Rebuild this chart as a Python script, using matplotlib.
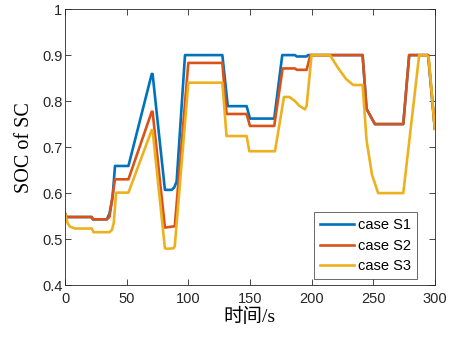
import matplotlib
matplotlib.use("Agg")
import matplotlib.pyplot as plt

t1 = [0, 1, 21.6, 22.5, 33.8, 36, 38.5, 40.5, 51.4, 70.3, 71, 81, 86.5, 88.5, 90.5, 97.3, 127.6, 130, 132, 147.3, 150,
      169.7, 176.2, 186.5, 188, 196, 197, 241.4, 244.6, 251.4, 274.4, 279.2, 294.6, 300]
s1 = [0.555, 0.548, 0.548, 0.543, 0.543, 0.555, 0.59, 0.659, 0.659, 0.859, 0.859, 0.607, 0.607, 0.612, 0.625, 0.9, 0.9, 0.84, 0.789, 0.789, 0.762,
      0.762, 0.9, 0.9, 0.897, 0.897, 0.9, 0.9, 0.783, 0.75, 0.75, 0.9, 0.9, 0.74]

t2 = [0, 1, 21.6, 22.5, 33.8, 36, 40.5, 51.4, 70.3, 71, 81, 89, 100, 127.6, 131, 147.3, 150,
      169.7, 176.5, 186.5, 188, 196, 199, 241.4, 244.6, 251.4, 274.4, 279.2, 294.6, 300]
s2 = [0.555, 0.548, 0.548, 0.543, 0.543, 0.548, 0.63, 0.63, 0.777, 0.777, 0.525, 0.528, 0.883, 0.883, 0.772, 0.772, 0.746,
      0.746, 0.871, 0.871, 0.868, 0.868, 0.9, 0.9, 0.783, 0.75, 0.75, 0.9, 0.9, 0.74]

t3 = [0, 2, 4, 8, 21.6, 23, 36, 38, 39.5, 41.4, 51.4, 70.3, 71, 81, 83, 88, 89, 100, 127.6, 131, 147.3, 149.5,
      170.3, 177.6, 182, 186.5, 190, 194.6, 196, 200, 214.9, 222, 228, 233.8, 241.4, 244.6, 249, 254, 274.4, 287.3, 293.3, 295, 300]
s3 = [0.555, 0.535, 0.527, 0.523, 0.523, 0.515, 0.515, 0.52, 0.535, 0.601, 0.601, 0.737, 0.737, 0.48, 0.479, 0.48, 0.485, 0.84, 0.84, 0.724, 0.724, 0.691,
      0.691, 0.809, 0.809, 0.8, 0.79, 0.782, 0.79, 0.9, 0.9, 0.87, 0.848, 0.835, 0.835, 0.715, 0.64, 0.6, 0.6, 0.9, 0.9, 0.895, 0.74]

labels = ["case S1", "case S2", "case S3"]
colors = ["#0072BD", "#D95319", "#EDB120"]
xticks = [0, 50, 100, 150, 200, 250, 300]
yticks = [0.4, 0.5, 0.6, 0.7, 0.8, 0.9, 1.0]
yticklabels = ["0.4", "0.5", "0.6", "0.7", "0.8", "0.9", "1"]

plt.rcParams['font.family'] = ['Liberation Sans', 'DejaVu Sans']
fig = plt.figure(figsize=(4.52, 3.37), dpi=100)
ax = fig.add_axes([0.144, 0.154, 0.818, 0.819])
for t, s, lab, c in zip([t1, t2, t3], [s1, s2, s3], labels, colors):
    ax.plot(t, s, color=c, lw=1.9, label=lab)
ax.set_xlim(0, 300)
ax.set_ylim(0.4, 1.0)
ax.set_xticks(xticks)
ax.set_yticks(yticks)
ax.set_yticklabels(yticklabels)
ax.tick_params(direction='in', top=True, right=True, labelsize=10.5, length=4, width=0.6, color='#262626', labelcolor='#262626')
ax.tick_params(axis='x', pad=5)
ax.tick_params(axis='y', pad=2)
for sp in ax.spines.values():
    sp.set_linewidth(0.6)
    sp.set_color('#262626')
ax.set_ylabel("SOC of SC", family=['Liberation Serif', 'Noto Sans CJK SC'], fontsize=14.5, labelpad=6)
ax.set_xlabel("时间/s", family=['Liberation Serif', 'Noto Sans CJK SC'], fontsize=14, labelpad=1)
leg = ax.legend(loc='lower right', bbox_to_anchor=(0.952, 0.022), fontsize=10.5, frameon=True, fancybox=False,
                edgecolor='#262626', borderpad=0.4, handlelength=2.3, handletextpad=0.3, labelspacing=0.45,
                borderaxespad=0.0)
leg.get_frame().set_linewidth(0.6)
fig.savefig("out.png", dpi=100)
